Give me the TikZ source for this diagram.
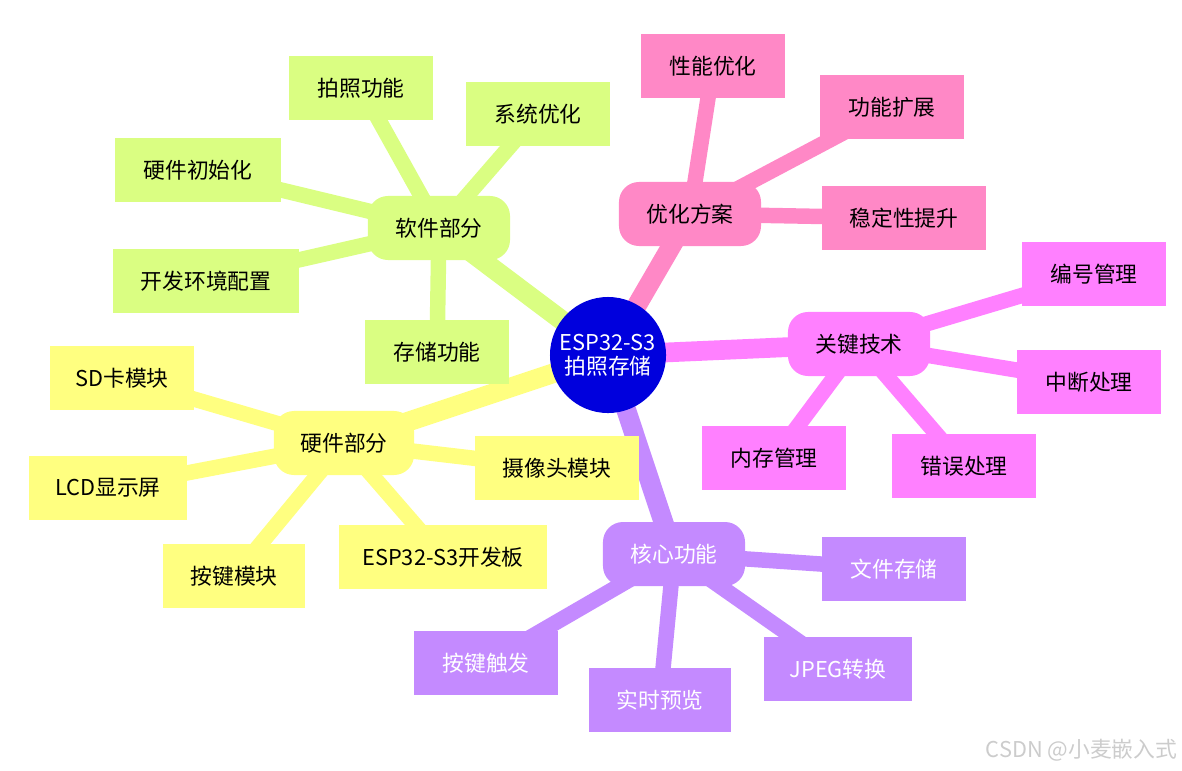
\documentclass[tikz,border=0pt]{standalone}
\usepackage{fontspec}
\setmainfont{Noto Sans CJK SC}
\usetikzlibrary{backgrounds}
\definecolor{soft}{HTML}{DAFE82}
\definecolor{hard}{HTML}{FFFF80}
\definecolor{optim}{HTML}{FF88C6}
\definecolor{keytech}{HTML}{FF80FF}
\definecolor{core}{HTML}{C48AFF}
\definecolor{root}{HTML}{0000DD}
\tikzset{
  every picture/.style = {
    font=\fontsize{15.5}{18}\selectfont
  },
  rootnode/.style={
    shape = circle,
    fill = root,
    text = white,
    minimum size = 2.9cm,
    inner sep = 0pt,
    align = center,
    font=\fontsize{15.5}{17}\selectfont
  },
  hub/.style={
    shape = rectangle,
    rounded corners = 0.5cm,
    minimum width = 3.55cm,
    minimum height = 1.6cm,
    fill = #1
  },
  leaf/.style={
    shape = rectangle,
    minimum width = 3.6cm,
    minimum height = 1.6cm,
    fill = #1
  },
  trunk/.style={
    draw = #1,
    line width = 14pt
  },
  twig/.style={
    draw = #1,
    line width = 11pt
  }
}

\begin{document}
\begin{tikzpicture}[x=0.025cm,y=-0.025cm]
        \useasboundingbox (0,0) rectangle (1182,770);
        \node[rootnode] (esp) at (608,355) {ESP32-S3\\拍照存储};
        % software
        \node[hub=soft] (sw) at (439,228) {软件部分};
        \node[leaf=soft] (sw1) at (361,88) {拍照功能};
        \node[leaf=soft] (sw2) at (538,114) {系统优化};
        \node[leaf=soft, minimum width=4.15cm] (sw3) at (198,170) {硬件初始化};
        \node[leaf=soft, minimum width=4.65cm] (sw4) at (206,281) {开发环境配置};
        \node[leaf=soft] (sw5) at (437,352) {存储功能};
        % hardware
        \node[hub=hard, minimum width=3.5cm] (hw) at (344,443) {硬件部分};
        \node[leaf=hard] (hw1) at (122,378) {SD卡模块};
        \node[leaf=hard, minimum width=3.95cm] (hw2) at (108,488) {LCD显示屏};
        \node[leaf=hard, minimum width=3.55cm] (hw3) at (234,576) {按键模块};
        \node[leaf=hard, minimum width=5.2cm] (hw4) at (443,557) {ESP32-S3开发板};
        \node[leaf=hard, minimum width=4.08cm] (hw5) at (557,468) {摄像头模块};
        % optimisation
        \node[hub=optim] (op) at (690,214) {优化方案};
        \node[leaf=optim] (op1) at (713,66) {性能优化};
        \node[leaf=optim] (op2) at (892,107) {功能扩展};
        \node[leaf=optim, minimum width=4.12cm] (op3) at (904,218) {稳定性提升};
        % key techniques
        \node[hub=keytech] (kt) at (859,344) {关键技术};
        \node[leaf=keytech] (kt1) at (1094,274) {编号管理};
        \node[leaf=keytech] (kt2) at (1089,382) {中断处理};
        \node[leaf=keytech] (kt3) at (964,466) {错误处理};
        \node[leaf=keytech] (kt4) at (774,458) {内存管理};
        % core functions
        \node[hub=core, text=white] (cf) at (674,554) {核心功能};
        \node[leaf=core, text=white] (cf1) at (894,569) {文件存储};
        \node[leaf=core, text=white, minimum width=3.7cm] (cf2) at (838,669) {JPEG转换};
        \node[leaf=core, text=white, minimum width=3.55cm] (cf3) at (660,700) {实时预览};
        \node[leaf=core, text=white] (cf4) at (486,663) {按键触发};
        \node[text=black!20, font=\fontsize{15.5}{18}\selectfont, anchor=east, inner sep=1pt] (mark) at (1179,750) {CSDN @小麦嵌入式};
        \begin{scope}[on background layer]
          \draw[trunk=soft] (esp.center)--(sw.center);
          \draw[trunk=hard] (esp.center)--(hw.center);
          \draw[trunk=optim] (esp.center)--(op.center);
          \draw[trunk=keytech] (esp.center)--(kt.center);
          \draw[trunk=core] (esp.center)--(cf.center);
          \foreach \i in {1,...,5} {
            \draw[twig=soft] (sw.center)--(sw\i.center);
            \draw[twig=hard] (hw.center)--(hw\i.center);
          }
          \foreach \i in {1,2,3}
            \draw[twig=optim] (op.center)--(op\i.center);
          \foreach \i in {1,...,4} {
            \draw[twig=keytech] (kt.center)--(kt\i.center);
            \draw[twig=core] (cf.center)--(cf\i.center);
          }
        \end{scope}
    \end{tikzpicture}
\end{document}
